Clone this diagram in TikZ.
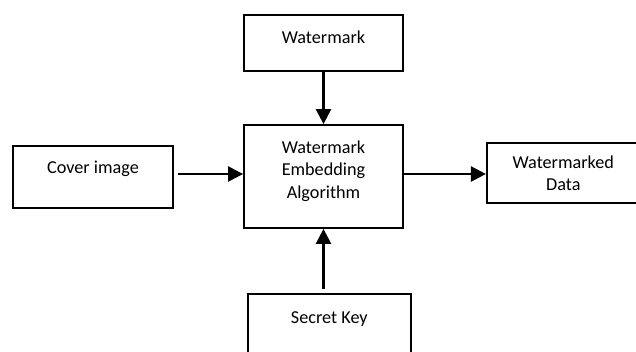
\documentclass[tikz,border=0pt]{standalone}
\usepackage{fontspec}
\setmainfont{Carlito}
\usetikzlibrary{arrows.meta}
\usetikzlibrary{calc}
\tikzset{
	blk/.style={draw, line width=1.8pt, inner sep=0pt, align=center,
		text height=12pt, font=\fontsize{18.2}{22.5}\selectfont},
	arr/.style={->, line width=2.4pt},
	>={Triangle[length=15pt,width=15pt]}
}

\begin{document}
\begin{tikzpicture}[x=1pt,y=-1pt]
		\useasboundingbox (0,0) rectangle (636,352);

		\node[blk, minimum width=159pt, minimum height=56pt, text depth=10pt] (wm) at (323.5,43) {Watermark};
		\node[blk, minimum width=159pt, minimum height=103pt, text height=57pt, text depth=13pt] (emb) at (323.5,176.5) {Watermark\\Embedding\\Algorithm};
		\node[blk, minimum width=160pt, minimum height=62pt, text depth=18pt] (cov) at (93,177) {Cover image};
		\node[blk, minimum width=153pt, minimum height=60pt, text height=34.5pt, text depth=0pt] (out) at (563.3,173.3) {Watermarked\\Data};
		\node[blk, minimum width=163pt, minimum height=62pt, text depth=16pt] (key) at (329.3,325) {Secret Key};

		\draw[arr] (wm.south) -- (emb.north);
		\draw[arr] ($(cov.east |- emb.west)+(4,-2.5)$) -- ($(emb.west)+(0,-2.5)$);
		\draw[arr] ($(emb.east)+(0,-2.5)$) -- ($(out.west |- emb.east)+(0,-2.5)$);
		\draw[arr] ($(key.north -| emb.south)+(0,-4)$) -- (emb.south);
	\end{tikzpicture}
\end{document}
